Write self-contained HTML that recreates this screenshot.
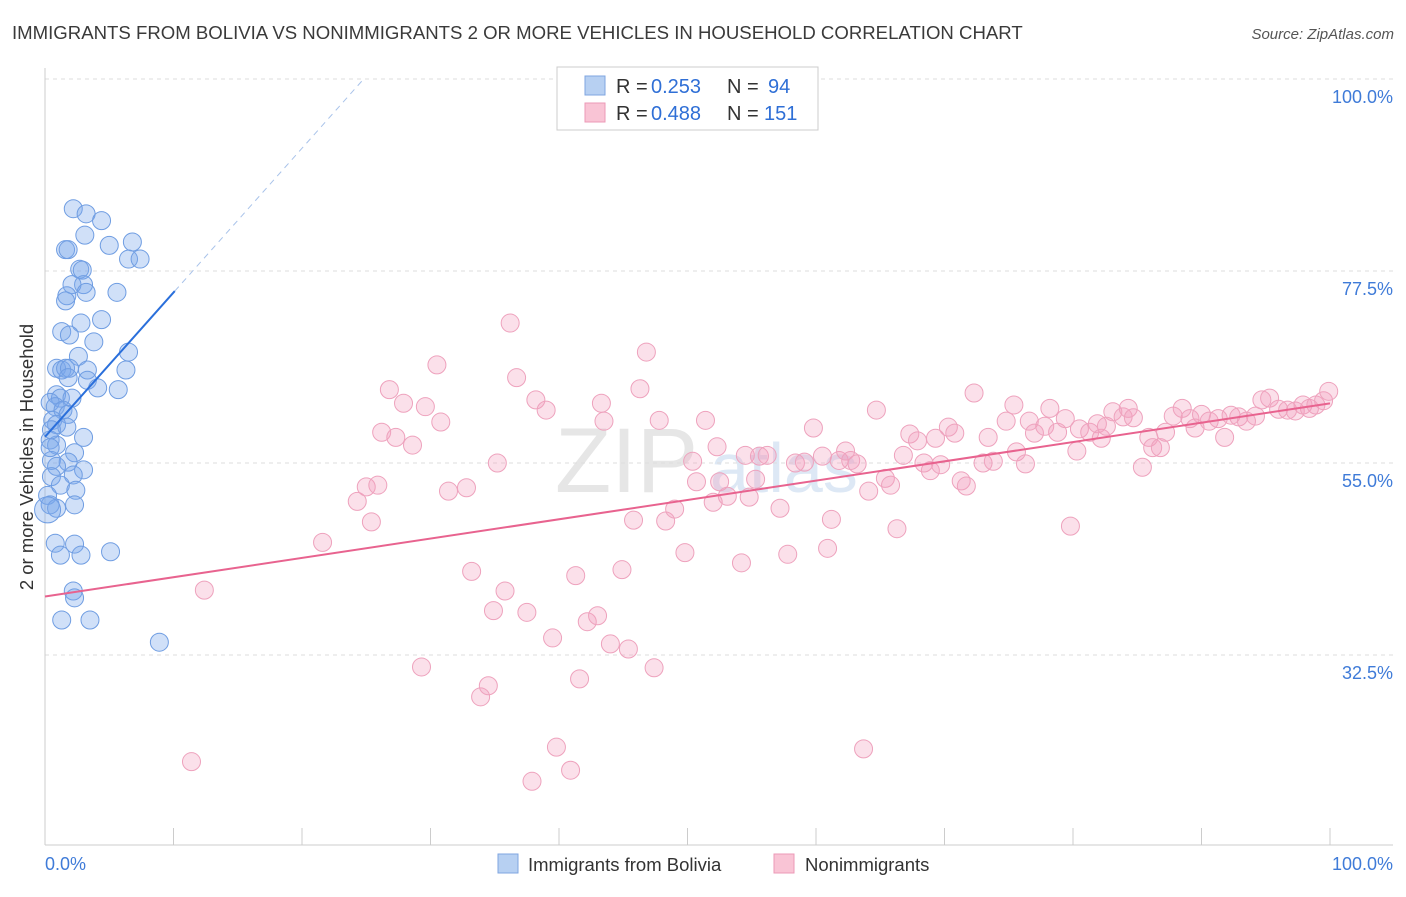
<!DOCTYPE html>
<html><head><meta charset="utf-8"><style>
body{margin:0;background:#fff;font-family:"Liberation Sans",sans-serif;}
svg text{font-family:"Liberation Sans",sans-serif;}
</style></head><body>
<svg id="chart" width="1406" height="892" viewBox="0 0 1406 892" xmlns="http://www.w3.org/2000/svg">
<text x="12" y="39" font-size="18.6" fill="#3a3a3a">IMMIGRANTS FROM BOLIVIA VS NONIMMIGRANTS 2 OR MORE VEHICLES IN HOUSEHOLD CORRELATION CHART</text>
<text x="1394" y="39" font-size="15" fill="#555" font-style="italic" text-anchor="end">Source: ZipAtlas.com</text>
<text x="555" y="492" font-size="92" fill="#e6e6e6" font-family="Liberation Serif">ZIP</text>
<text x="710" y="492" font-size="70" fill="#dde8f5">atlas</text>
<g id="grid"></g>
<g id="axes"></g>
<g id="marks"></g>
<text transform="translate(33,457) rotate(-90)" font-size="18.5" fill="#333" text-anchor="middle">2 or more Vehicles in Household</text>
<g>
<rect x="557" y="67" width="261" height="63" fill="#fff" stroke="#ccc"/>
<rect x="585" y="76" width="20" height="19" fill="#b7d0f2" stroke="#7fa6e0"/>
<rect x="585" y="103" width="20" height="19" fill="#f9c4d5" stroke="#ec9ab7"/>
<text x="616" y="93" font-size="20" fill="#333">R =</text>
<text x="651" y="93" font-size="20" fill="#2f6fd6">0.253</text>
<text x="727" y="93" font-size="20" fill="#333">N =</text>
<text x="768" y="93" font-size="20" fill="#2f6fd6">94</text>
<text x="616" y="120" font-size="20" fill="#333">R =</text>
<text x="651" y="120" font-size="20" fill="#2f6fd6">0.488</text>
<text x="727" y="120" font-size="20" fill="#333">N =</text>
<text x="764" y="120" font-size="20" fill="#2f6fd6">151</text>
</g>
<g>
<rect x="498" y="854" width="20" height="19" fill="#b7d0f2" stroke="#7fa6e0"/>
<text x="528" y="871" font-size="18.5" fill="#333">Immigrants from Bolivia</text>
<rect x="774" y="854" width="20" height="19" fill="#f9c4d5" stroke="#ec9ab7"/>
<text x="805" y="871" font-size="18.5" fill="#333">Nonimmigrants</text>
</g>
</svg>
<script>
const blueX=[2.2,3.2,4.4,3.1,1.6,1.8,5.0,6.8,6.5,7.4,2.7,2.9,3.0,2.1,3.2,5.6,1.7,1.6,2.8,4.4,1.3,1.9,3.8,2.6,6.5,0.9,1.3,1.6,1.9,3.3,6.3,1.8,3.3,4.1,5.7,0.9,1.2,2.1,0.4,0.8,1.4,1.8,0.6,0.9,1.7,3.0,0.4,0.9,2.3,0.5,1.8,0.9,3.0,2.2,0.5,1.2,2.4,0.2,0.4,2.3,0.9,0.8,2.3,1.2,2.8,5.1,2.2,2.3,1.3,3.5,8.9,0.2,0.5,0.4];
const blueY=[84.8,84.2,83.4,81.7,80.0,80.0,80.5,80.9,78.9,78.9,77.7,77.6,75.9,75.9,75.0,75.0,74.6,74.0,71.4,71.8,70.4,70.0,69.2,67.5,68.0,66.1,65.9,66.1,66.1,65.9,65.9,65.0,64.7,63.8,63.6,63.0,62.6,62.6,62.1,61.6,61.2,60.7,60.0,59.5,59.2,58.0,57.7,57.1,56.2,55.3,55.1,54.6,54.2,53.6,53.4,52.4,51.8,51.2,50.1,50.1,49.7,45.6,45.5,44.2,44.2,44.6,40.0,39.2,36.6,36.6,34.0,49.5,58.9,56.8];
const pinkX=[11.4,12.4,21.6,24.3,25.0,25.9,25.4,26.2,26.8,27.3,27.9,28.6,29.3,29.6,30.5,30.8,31.4,32.8,33.2,33.9,34.5,34.9,35.2,35.8,36.2,36.7,37.5,37.9,38.2,39.0,39.5,39.8,40.9,41.3,41.6,42.2,43.0,43.3,43.5,44.0,44.9,45.4,45.8,46.3,46.8,47.4,47.8,48.3,49.0,49.8,50.4,50.7,51.4,52.0,52.3,52.5,53.1,54.2,54.5,54.8,55.3,55.6,56.2,57.2,57.8,58.4,59.1,59.8,60.5,60.9,61.2,61.8,62.3,62.7,63.2,63.7,64.1,64.7,65.4,65.8,66.3,66.8,67.3,67.9,68.4,68.9,69.3,69.7,70.3,70.8,71.3,71.7,72.3,73.0,73.4,73.8,74.8,75.4,75.6,76.3,76.6,77.0,77.8,78.2,78.8,79.4,79.8,80.3,80.5,81.3,81.9,82.2,82.6,83.1,83.9,84.3,84.7,85.4,85.9,86.2,86.8,87.2,87.8,88.5,89.1,89.5,90.0,90.6,91.3,91.8,92.3,92.9,93.5,94.2,94.7,95.3,96.0,96.7,97.3,97.9,98.4,98.9,99.5,99.9];
const pinkY=[20.0,40.1,45.7,50.5,52.2,52.4,48.1,58.6,63.6,58.0,62.0,57.1,31.1,61.6,66.5,59.8,51.7,52.1,42.3,27.6,28.9,37.7,55.0,40.0,71.4,65.0,37.5,17.7,62.4,61.2,34.5,21.7,19.0,41.8,29.7,36.4,37.1,62.0,59.9,33.8,42.5,33.2,48.3,63.7,68.0,31.0,60.0,48.2,49.6,44.5,55.2,52.8,60.0,50.4,56.9,52.8,51.1,43.3,55.9,51.0,53.1,55.8,55.9,49.7,44.3,55.0,55.1,59.1,55.8,45.0,48.4,55.3,56.4,55.3,54.9,21.5,51.7,61.2,53.2,52.4,47.3,55.9,58.4,57.6,55.0,54.1,57.9,54.8,59.2,58.5,52.9,52.3,63.2,55.0,58.0,55.2,59.9,61.8,56.3,54.9,59.9,58.5,59.3,61.4,58.6,60.2,47.6,56.4,59.0,58.6,59.6,57.9,59.3,61.0,60.4,61.4,60.3,54.5,58.0,56.8,56.8,58.6,60.5,61.4,60.2,59.1,60.7,59.9,60.2,58.0,60.6,60.4,59.9,60.5,62.4,62.6,61.3,61.2,61.1,61.8,61.4,61.8,62.3,63.4];
const yTicks=[32.5,55.0,77.5,100.0];
const yTickLabels=["32.5%","55.0%","77.5%","100.0%"];
const xEndLabels=["0.0%","100.0%"];

const NS="http://www.w3.org/2000/svg";
const X0=45,X1=1330,YB=845;
function sx(v){return X0+(X1-X0)*v/100;}
function sy(v){return 79+(100-v)*(192/22.5);}
function mk(tag,attrs,parent){const e=document.createElementNS(NS,tag);for(const k in attrs)e.setAttribute(k,attrs[k]);parent.appendChild(e);return e;}
const grid=document.getElementById('grid'),axes=document.getElementById('axes'),marks=document.getElementById('marks');
yTicks.forEach((t,i)=>{
  const l=mk('line',{x1:X0,x2:1393,y1:sy(t),y2:sy(t),stroke:'#ddd','stroke-dasharray':'4,4'},grid);
  
  
  const tx=mk('text',{x:1393,y:sy(t)+24,'font-size':18,fill:'#3f7bd8','text-anchor':'end'},axes);
  tx.textContent=yTickLabels[i];
  
  
});
let a=mk('line',{x1:X0,x2:X0,y1:68,y2:YB,stroke:'#ccc'},axes);


a=mk('line',{x1:X0,x2:1393,y1:YB,y2:YB,stroke:'#ccc'},axes);


for(let k=0;k<=10;k++){
  const t=mk('line',{x1:sx(k*10),x2:sx(k*10),y1:828,y2:YB,stroke:'#ccc'},axes);
  
  
}
let t0=mk('text',{x:45,y:870,'font-size':18,fill:'#3f7bd8'},axes);t0.textContent=xEndLabels[0];


let t1=mk('text',{x:1393,y:870,'font-size':18,fill:'#3f7bd8','text-anchor':'end'},axes);t1.textContent=xEndLabels[1];



function fit(xs,ys){const n=xs.length;let mx=0,my=0;for(let i=0;i<n;i++){mx+=xs[i];my+=ys[i];}mx/=n;my/=n;let sxy=0,sxx=0;for(let i=0;i<n;i++){sxy+=(xs[i]-mx)*(ys[i]-my);sxx+=(xs[i]-mx)**2;}const b=sxy/sxx;return [my-b*mx,b];}

pinkX.forEach((x,i)=>{
  const c=mk('circle',{cx:sx(x),cy:sy(pinkY[i]),r:9,fill:'rgba(244,160,190,0.32)',stroke:'#eea2bd','stroke-width':1},marks);
  
  
});
blueX.forEach((x,i)=>{
  const c=mk('circle',{cx:sx(x),cy:sy(blueY[i]),r:i==71?13:9,fill:'rgba(120,165,235,0.35)',stroke:'#6f9de2','stroke-width':1},marks);
  
  
});
const pf=fit(pinkX,pinkY);
let pl=mk('line',{x1:sx(0),y1:sy(pf[0]),x2:sx(100),y2:sy(pf[0]+pf[1]*100),stroke:'#e8638f','stroke-width':2},marks);


const bf=fit(blueX,blueY);
const xmax=Math.max(...blueX)+1.2;
let bl=mk('line',{x1:sx(0),y1:sy(bf[0]),x2:sx(xmax),y2:sy(bf[0]+bf[1]*xmax),stroke:'#2a6fdb','stroke-width':2},marks);


const xe=(100-bf[0])/bf[1];
let bd=mk('line',{x1:sx(xmax),y1:sy(bf[0]+bf[1]*xmax),x2:sx(xe),y2:sy(100),stroke:'#a9c3ea','stroke-width':1,'stroke-dasharray':'6,5'},marks);


</script>
</body></html>
